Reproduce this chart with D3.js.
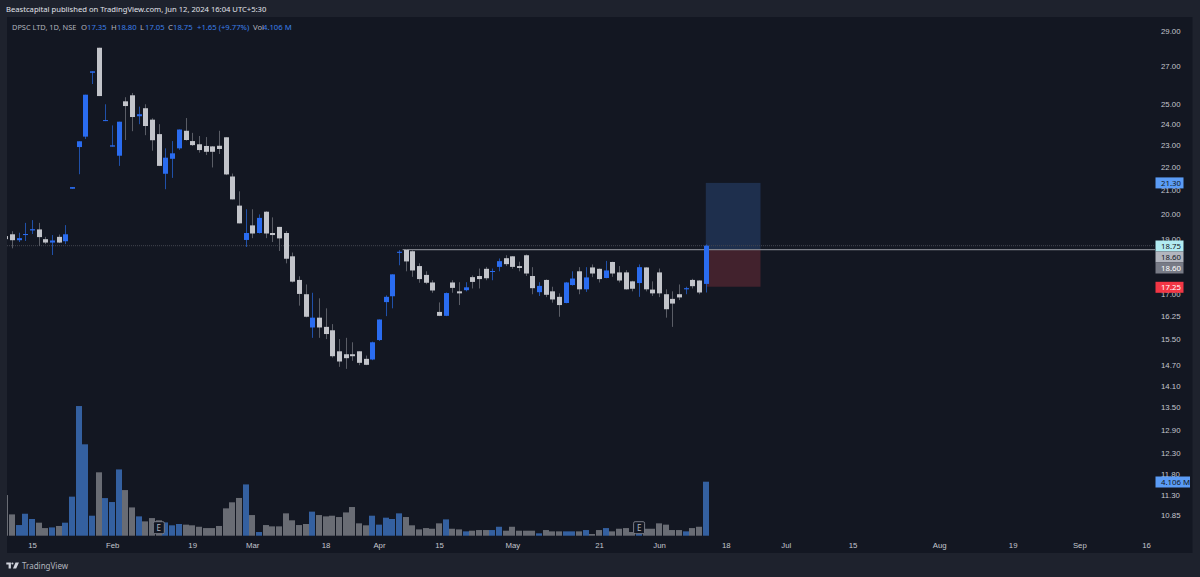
<!DOCTYPE html>
<html>
<head>
<meta charset="utf-8">
<script src="https://cdn.jsdelivr.net/npm/d3@7"></script>
<style>
  html, body { margin: 0; padding: 0; background: #1e222d; }
  svg { display: block; font-family: "Noto Sans", sans-serif; }
  .domain { display: none; }
  .price-axis text, .time-axis text { fill: #c3c6ce; font-size: 7.8px; }
</style>
</head>
<body>
<div id="chart"></div>
<script>
// daily candles, oldest first
var opens = [19.12,19.19,18.96,19.16,19.34,19.38,19.00,18.87,19.09,18.92,
  21.05,22.91,23.40,26.64,28.03,24.15,22.93,22.51,25.14,25.45,
  24.39,24.79,24.22,23.52,21.70,22.37,22.85,23.68,23.19,23.04,
  22.96,22.94,22.97,23.37,21.58,20.34,18.97,19.54,19.24,20.09,
  19.24,19.48,19.24,18.35,17.49,16.99,15.88,16.20,15.90,15.79,
  15.13,15.04,15.04,15.13,14.90,14.88,15.48,16.72,16.92,18.48,
  18.59,18.54,17.99,17.67,17.40,16.39,16.26,17.40,17.09,17.13,
  17.59,17.63,17.89,17.78,17.96,18.28,18.35,17.99,18.39,17.63,
  17.06,17.49,17.09,16.90,16.69,17.31,17.80,17.16,17.94,17.89,
  17.56,18.14,17.76,17.76,17.44,17.38,17.94,17.15,17.76,16.99,
  16.83,16.99,17.16,17.49,17.47,17.35];
var highs = [19.20,19.31,19.25,19.64,19.75,19.64,19.09,19.16,19.18,19.55,
  21.12,23.18,25.48,26.72,28.03,24.99,23.94,24.12,25.35,25.57,
  24.87,24.99,24.29,24.00,22.85,23.19,23.74,24.30,23.58,23.43,
  23.38,22.96,23.68,23.37,21.71,20.94,20.19,20.19,19.98,20.11,
  19.86,19.48,19.32,18.49,17.62,17.33,17.04,16.85,16.51,15.99,
  15.51,15.55,15.41,15.13,15.00,15.43,16.14,16.95,17.69,18.58,
  18.61,18.58,18.09,17.80,17.48,16.71,17.05,17.48,17.41,17.41,
  17.65,17.90,17.96,17.90,18.27,18.39,18.36,18.15,18.42,17.95,
  17.41,17.51,17.25,17.02,17.42,17.80,17.95,17.95,18.05,17.90,
  18.18,18.15,17.99,17.84,17.46,18.05,17.95,17.44,17.90,17.16,
  17.09,17.33,17.25,17.53,17.48,18.80];
var lows = [18.95,18.65,18.89,18.93,19.20,18.74,18.81,18.40,18.85,18.81,
  21.05,21.68,23.29,26.04,25.41,24.15,22.93,22.05,23.24,23.66,
  24.00,23.47,22.74,22.04,21.03,21.52,22.78,23.21,22.96,22.65,
  22.54,21.98,22.59,21.64,20.60,19.62,18.70,19.04,19.22,19.04,
  18.89,18.55,18.09,17.40,16.60,16.21,15.55,15.55,15.51,14.94,
  14.66,14.60,14.84,14.71,14.71,14.86,15.45,16.25,16.51,18.02,
  17.80,17.60,17.39,17.34,17.04,16.25,16.25,17.04,16.62,17.09,
  17.19,17.19,17.48,17.48,17.80,17.99,17.89,17.80,17.63,16.99,
  16.93,16.89,16.70,16.23,16.68,17.29,16.99,17.07,17.59,17.40,
  17.55,17.60,17.40,17.15,17.09,16.90,17.09,16.93,16.89,16.20,
  15.90,16.79,16.99,17.19,16.99,17.05];
var closes = [19.00,18.96,19.04,19.20,19.39,19.08,18.87,18.95,18.87,19.19,
  21.12,23.18,25.48,26.72,25.41,24.20,22.99,24.12,24.90,24.35,
  24.49,23.91,23.23,22.05,22.42,22.62,23.74,23.24,23.00,22.77,
  22.69,22.69,22.82,21.67,20.60,19.62,19.24,19.22,19.84,19.22,
  19.16,19.03,18.26,17.43,17.00,16.23,16.20,15.88,15.67,14.98,
  14.82,14.92,14.98,14.78,14.72,15.41,16.14,16.90,17.69,18.52,
  18.16,17.83,17.52,17.39,17.12,16.26,17.03,17.21,17.02,17.23,
  17.42,17.52,17.55,17.81,18.17,18.06,17.96,17.92,17.72,17.20,
  17.28,16.97,16.81,16.62,17.40,17.54,17.16,17.58,17.72,17.52,
  17.83,17.72,17.47,17.16,17.18,17.95,17.16,17.02,17.02,16.48,
  16.67,16.88,17.20,17.27,17.05,18.75];
// volume in millions
var volumes = [3.09,1.62,0.81,1.67,1.27,0.99,0.58,0.63,0.74,0.99,
  2.97,9.86,6.95,1.52,4.82,2.86,2.56,5.04,3.47,2.15,
  1.47,1.09,1.34,1.17,1.01,0.79,0.89,0.84,0.79,0.68,
  0.58,0.58,0.74,2.08,2.54,2.87,3.90,1.57,0.28,0.81,
  0.71,0.71,1.70,1.17,0.81,0.89,1.83,1.57,1.47,1.52,
  1.42,1.77,2.18,0.94,0.79,1.52,0.84,1.37,1.27,1.70,
  1.42,0.79,0.48,0.58,0.53,0.94,1.24,0.53,0.48,0.33,
  0.38,0.43,0.43,0.43,0.68,0.38,0.68,0.38,0.38,0.38,
  0.18,0.43,0.33,0.33,0.33,0.33,0.33,0.43,0.13,0.43,
  0.58,0.33,0.53,0.58,0.28,0.18,0.53,0.53,0.94,0.84,
  0.43,0.43,0.33,0.58,0.68,4.106];

var priceTicks = [29,27,25,24,23,22,21,20,19,18,17,16.25,15.5,14.7,14.1,13.5,12.9,12.3,11.8,11.3,10.85];
var timeTickBars = [4,16,28,37,48,56,65,76,89,98,108,117,127,140,151,161,171];
var timeTickLabels = ["15","Feb","19","Mar","18","Apr","15","May","21","Jun","18","Jul","15","Aug","19","Sep","16"];
var earningsBars = [23,95];

// long position tool
var positionBars = [105,113.2];
var positionTarget = 21.30, positionEntry = 18.60, positionStop = 17.25;
var lastClose = 18.75;

var width = 1200, height = 577;
var plotLeft = 7, plotTop = 17, plotRight = 1155, frameRight = 1192.5, plotBottom = 553;
var blue = "#2a6cf0", blueWick = "#2050a8", grey = "#c2c4ca", greyWick = "#5a5d66";
var blueVol = "#3460a0", greyVol = "#696c74";

var svg = d3.select("#chart").append("svg").attr("width", width).attr("height", height);

svg.append("rect").attr("width", width).attr("height", height).attr("fill", "#1e222d");
svg.append("rect").attr("x", plotLeft).attr("y", plotTop)
  .attr("width", frameRight - plotLeft).attr("height", plotBottom - plotTop).attr("fill", "#131722");

svg.append("clipPath").attr("id", "plot").append("rect")
  .attr("x", plotLeft).attr("y", plotTop).attr("width", plotRight - plotLeft).attr("height", plotBottom - plotTop);

var x = d3.scaleLinear().domain([0, 105]).range([5.4, 705.8]);
var y = d3.scaleLog().domain([10.85, 29]).range([515, 31]);
var yVol = d3.scaleLinear().domain([0, 10]).range([535.7, 404.2]);

var bars = d3.range(opens.length);
var isUp = function(i) { return closes[i] >= opens[i]; };
var barX = function(i) { return Math.round(x(i)); };

var plot = svg.append("g").attr("clip-path", "url(#plot)");

// volume
plot.selectAll(".vol").data(bars).enter().append("rect")
  .attr("class", "vol")
  .attr("x", function(i) { return barX(i) - 3; })
  .attr("width", 6)
  .attr("y", function(i) { return yVol(volumes[i]); })
  .attr("height", function(i) { return yVol(0) - yVol(volumes[i]); })
  .attr("fill", function(i) { return isUp(i) ? blueVol : greyVol; });

// position boxes
plot.append("rect").attr("x", x(positionBars[0])).attr("width", x(positionBars[1]) - x(positionBars[0]))
  .attr("y", y(positionTarget)).attr("height", y(positionEntry) - y(positionTarget)).attr("fill", "#1e2f4d");
plot.append("rect").attr("x", x(positionBars[0])).attr("width", x(positionBars[1]) - x(positionBars[0]))
  .attr("y", y(positionEntry)).attr("height", y(positionStop) - y(positionEntry)).attr("fill", "#42222d");

// last price dotted line and the ray at 18.60
plot.append("line").attr("x1", plotLeft).attr("x2", plotRight)
  .attr("y1", y(lastClose)).attr("y2", y(lastClose))
  .attr("stroke", "#43464f").attr("stroke-dasharray", "1 1");
plot.append("line").attr("x1", x(60) - 3).attr("x2", plotRight)
  .attr("y1", y(positionEntry)).attr("y2", y(positionEntry))
  .attr("stroke", "#7d8089").attr("stroke-width", 1.2);

// candles
plot.selectAll(".wick").data(bars).enter().append("rect")
  .attr("class", "wick")
  .attr("x", function(i) { return barX(i); })
  .attr("width", 1)
  .attr("y", function(i) { return y(highs[i]); })
  .attr("height", function(i) { return y(lows[i]) - y(highs[i]); })
  .attr("fill", function(i) { return isUp(i) ? blueWick : greyWick; });

plot.selectAll(".body").data(bars).enter().append("rect")
  .attr("class", "body")
  .attr("x", function(i) { return barX(i) - 2; })
  .attr("width", 5)
  .attr("y", function(i) { return y(Math.max(opens[i], closes[i])); })
  .attr("height", function(i) { return Math.max(1, Math.abs(y(opens[i]) - y(closes[i]))); })
  .attr("fill", function(i) { return isUp(i) ? blue : grey; });

// axes
svg.append("g").attr("class", "price-axis")
  .attr("transform", "translate(" + plotRight + ",0)")
  .call(d3.axisRight(y).tickValues(priceTicks).tickSize(0).tickPadding(6)
    .tickFormat(function(d) { return d.toFixed(2); }));

svg.append("g").attr("class", "time-axis")
  .attr("transform", "translate(0,536)")
  .call(d3.axisBottom(x).tickValues(timeTickBars).tickSize(0).tickPadding(6)
    .tickFormat(function(d, i) { return timeTickLabels[i]; }));

// earnings flags
var flags = svg.selectAll(".flag").data(earningsBars).enter().append("g")
  .attr("class", "flag")
  .attr("transform", function(i) { return "translate(" + x(i) + ",527.7)"; });
flags.append("rect").attr("x", -5.5).attr("y", -6).attr("width", 11).attr("height", 12).attr("rx", 1.5)
  .attr("fill", "#131722").attr("stroke", "#787b86").attr("stroke-width", 1);
flags.append("text").attr("text-anchor", "middle").attr("y", 3).attr("font-size", 8).attr("fill", "#b2b5be").text("E");

// price labels on the right
var priceTags = [
  { text: "21.30", cy: y(positionTarget), w: 28, bg: "#5b9cf6", fg: "#131722" },
  { text: "18.75", cy: 246, w: 28, bg: "#b2ebf2", fg: "#131722" },
  { text: "18.60", cy: 257, w: 28, bg: "#b2b5be", fg: "#131722" },
  { text: "18.60", cy: 268, w: 28, bg: "#787b86", fg: "#ffffff" },
  { text: "17.25", cy: 287.3, w: 28, bg: "#f23645", fg: "#ffffff" },
  { text: "4.106 M", cy: 482, w: 34.5, bg: "#5b9cf6", fg: "#131722" }
];
var tags = svg.selectAll(".tag").data(priceTags).enter().append("g").attr("class", "tag");
tags.append("rect").attr("x", 1155.5).attr("height", 11)
  .attr("width", function(d) { return d.w; })
  .attr("y", function(d) { return d.cy - 5.5; })
  .attr("fill", function(d) { return d.bg; });
tags.append("text").attr("x", 1161).attr("font-size", 7.8)
  .attr("y", function(d) { return d.cy + 2.8; })
  .attr("fill", function(d) { return d.fg; })
  .text(function(d) { return d.text; });

// header and legend text
svg.append("text").attr("x", 6).attr("y", 12).attr("font-size", 7.63).attr("fill", "#e0e3ea")
  .text("Beastcapital published on TradingView.com, Jun 12, 2024 16:04 UTC+5:30");

var legendGrey = "#b2b5be", legendBlue = "#3b7fe8";
var legendParts = [
  { x: 12, t: "DPSC LTD, 1D, NSE", c: legendGrey, s: 7.4 },
  { x: 81, t: "O", c: legendGrey, s: 7.7 }, { x: 87, t: "17.35", c: legendBlue, s: 7.7 },
  { x: 111, t: "H", c: legendGrey, s: 7.7 }, { x: 117, t: "18.80", c: legendBlue, s: 7.7 },
  { x: 140, t: "L", c: legendGrey, s: 7.7 }, { x: 145, t: "17.05", c: legendBlue, s: 7.7 },
  { x: 168, t: "C", c: legendGrey, s: 7.7 }, { x: 173, t: "18.75", c: legendBlue, s: 7.7 },
  { x: 197, t: "+1.65 (+9.77%)", c: legendBlue, s: 7.7 },
  { x: 253, t: "Vol", c: legendGrey, s: 7.7 }, { x: 263, t: "4.106 M", c: legendBlue, s: 7.7 }
];
svg.selectAll(".legend").data(legendParts).enter().append("text")
  .attr("class", "legend").attr("y", 29.5)
  .attr("font-size", function(d) { return d.s; })
  .attr("x", function(d) { return d.x; })
  .attr("fill", function(d) { return d.c; })
  .text(function(d) { return d.t; });

// footer logo and name
svg.append("path")
  .attr("transform", "translate(6.3,562.5) scale(0.46)")
  .attr("d", "M0 0H10V13H5V4.5H0Z M11 2.3a2.3 2.3 0 1 0 4.6 0a2.3 2.3 0 1 0 -4.6 0Z M20 0H27.5L21.5 13H14.5Z")
  .attr("fill", "#d1d4dc");
svg.append("text").attr("x", 22).attr("y", 568.5).attr("font-size", 8).attr("fill", "#b2b5be").text("TradingView");
</script>
</body>
</html>
